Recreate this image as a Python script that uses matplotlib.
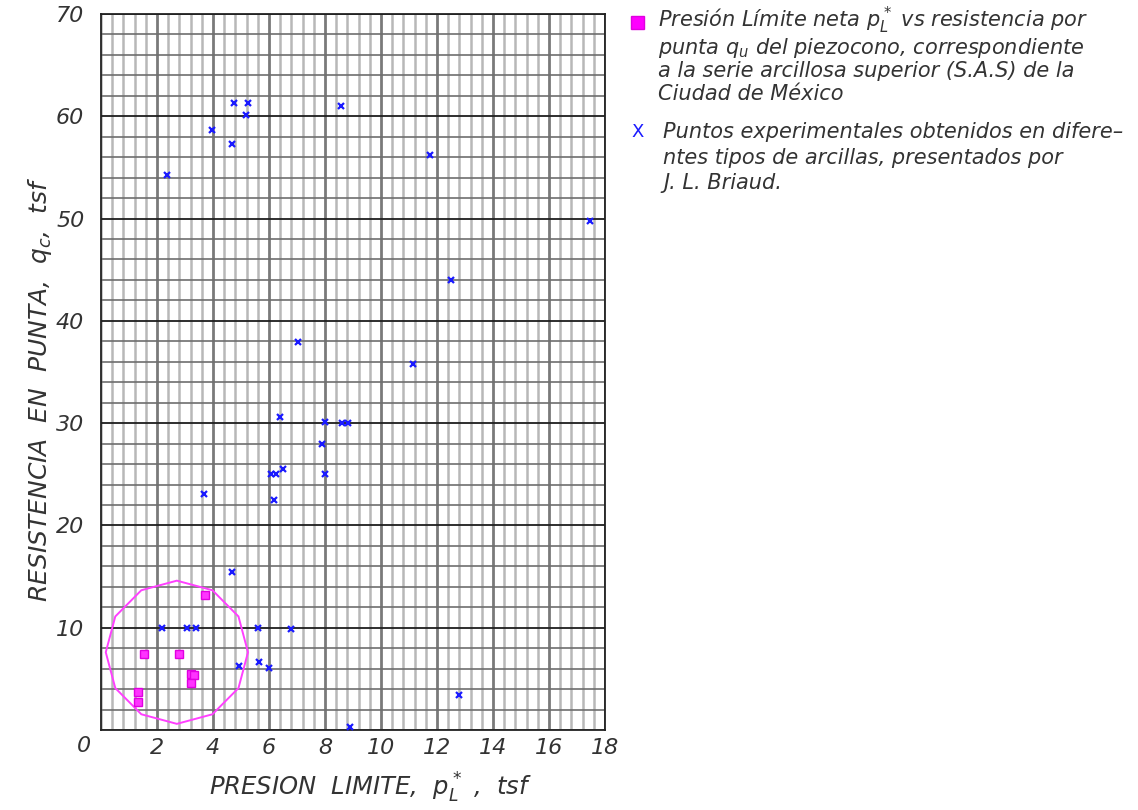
import numpy as np
import matplotlib
matplotlib.use("Agg")
import matplotlib.pyplot as plt
from matplotlib.patches import Polygon, Rectangle

# ---- data ----
# Mexico City upper clay series (S.A.S): net limit pressure vs cone resistance
sas_p = [3.71, 1.54, 2.77, 3.21, 3.32, 3.20, 1.32, 1.33]
sas_q = [13.2, 7.4, 7.4, 5.45, 5.4, 4.6, 3.75, 2.7]

# Briaud experimental points, various clays
briaud_p = [2.18, 3.07, 3.39, 5.60, 6.79, 4.93, 5.64, 6.00, 8.89, 12.79,
            4.68, 3.68, 6.18, 6.07, 6.25, 6.50, 6.39, 7.88, 8.00, 8.00,
            8.60, 8.83, 7.04, 11.14, 12.50, 17.46, 11.75, 8.57, 2.36, 3.98,
            4.68, 4.75, 5.25, 5.18]
briaud_q = [10.0, 10.0, 10.0, 10.0, 9.9, 6.3, 6.6, 6.1, 0.3, 3.4,
            15.4, 23.1, 22.5, 25.0, 25.0, 25.5, 30.6, 28.0, 25.0, 30.1,
            30.0, 30.0, 37.9, 35.8, 44.0, 49.8, 56.2, 61.0, 54.3, 58.7,
            57.3, 61.3, 61.3, 60.1]

# envelope around the S.A.S. cluster (12-sided)
env_center = (2.71, 7.6)
env_radius = (2.54, 7.0)
env_sides = 12

x_ticks = [2, 4, 6, 8, 10, 12, 14, 16, 18]
y_ticks = [10, 20, 30, 40, 50, 60, 70]

# ---- fonts ----
plt.rcParams["font.family"] = ["DejaVu Sans"]
plt.rcParams["font.style"] = "italic"
plt.rcParams["mathtext.fontset"] = "custom"
plt.rcParams["mathtext.rm"] = "DejaVu Sans:italic"
plt.rcParams["mathtext.it"] = "DejaVu Sans:italic"

TXT = "#333333"
W, H = 1138, 810
fig = plt.figure(figsize=(W / 100, H / 100), dpi=100)
L, R, T, B = 101, 605, 14, 730
ax = fig.add_axes([L / W, 1 - B / H, (R - L) / W, (B - T) / H])

ax.set_xlim(0, 18)
ax.set_ylim(0, 70)

# grid
ax.set_xticks(x_ticks)
ax.set_xticks(np.arange(0, 18.01, 0.4), minor=True)
ax.set_yticks(y_ticks)
ax.set_yticks(np.arange(0, 70.01, 2), minor=True)
ax.xaxis.grid(True, which="minor", color="#b8b8b8", lw=1.8)
ax.xaxis.grid(True, which="major", color="#7a7a7a", lw=2.0)
ax.yaxis.grid(True, which="minor", color="#6e6e6e", lw=1.2)
ax.yaxis.grid(True, which="major", color="#1e1e1e", lw=1.3)
ax.set_axisbelow(True)
ax.tick_params(which="both", length=0)
ax.tick_params(axis="x", pad=6, labelsize=16, labelcolor=TXT)
ax.tick_params(axis="y", pad=12, labelsize=16, labelcolor=TXT)
ax.set_xticklabels([str(v) for v in x_ticks])
ax.set_yticklabels([str(v) for v in y_ticks])
for s in ax.spines.values():
    s.set_color("#222222")
    s.set_linewidth(1.3)

# envelope polygon
ang = np.deg2rad(np.arange(env_sides) * 360 / env_sides)
verts = np.column_stack([env_center[0] + env_radius[0] * np.cos(ang),
                         env_center[1] + env_radius[1] * np.sin(ang)])
ax.add_patch(Polygon(verts, closed=True, fill=False, ec="#ff40ff", lw=1.4, zorder=3))

# points
ax.plot(briaud_p, briaud_q, ls="none", marker="x", ms=5, mew=1.6,
        color="#1a1aff", zorder=4, clip_on=False)
ax.plot(sas_p, sas_q, ls="none", marker="s", ms=5.5, mfc="#ff33ff",
        mec="#e000e0", mew=1.0, zorder=5)

# origin label
fig.text(84 / W, 1 - 746 / H, "0", fontsize=16, color=TXT,
         ha="center", va="center")

# axis titles
fig.text(370 / W, 1 - 788 / H, r"PRESION  LIMITE,  $p_L^*$ ,  tsf",
         fontsize=17.5, color=TXT, ha="center", va="center")
fig.text(40 / W, 1 - 389 / H, r"RESISTENCIA  EN  PUNTA,  $q_c$,  tsf",
         fontsize=18, color=TXT, ha="center", va="center", rotation=90)

# legend
def ftext(x, y, s, **kw):
    fig.text(x / W, 1 - y / H, s, fontsize=15, color=TXT,
             ha="left", va="center", **kw)

fig.patches.append(Rectangle(
    (631 / W, 1 - 29 / H), 13 / W, 13 / H, transform=fig.transFigure,
    fc="#ff00ff", ec="#e000e0", lw=1))
ftext(658, 20, r"Presión Límite neta $p_L^*$ vs resistencia por")
ftext(658, 48, r"punta $q_u$ del piezocono, correspondiente")
ftext(658, 71, "a la serie arcillosa superior (S.A.S) de la")
ftext(658, 94, "Ciudad de México")
fig.text(638 / W, 1 - 132 / H, "X", fontsize=13, color="#1a1aff",
         ha="center", va="center", style="normal")
ftext(663, 132, "Puntos experimentales obtenidos en difere–")
ftext(663, 158, "ntes tipos de arcillas, presentados por")
ftext(663, 183, "J. L. Briaud.")

fig.savefig("out.png", dpi=100, facecolor="white")
